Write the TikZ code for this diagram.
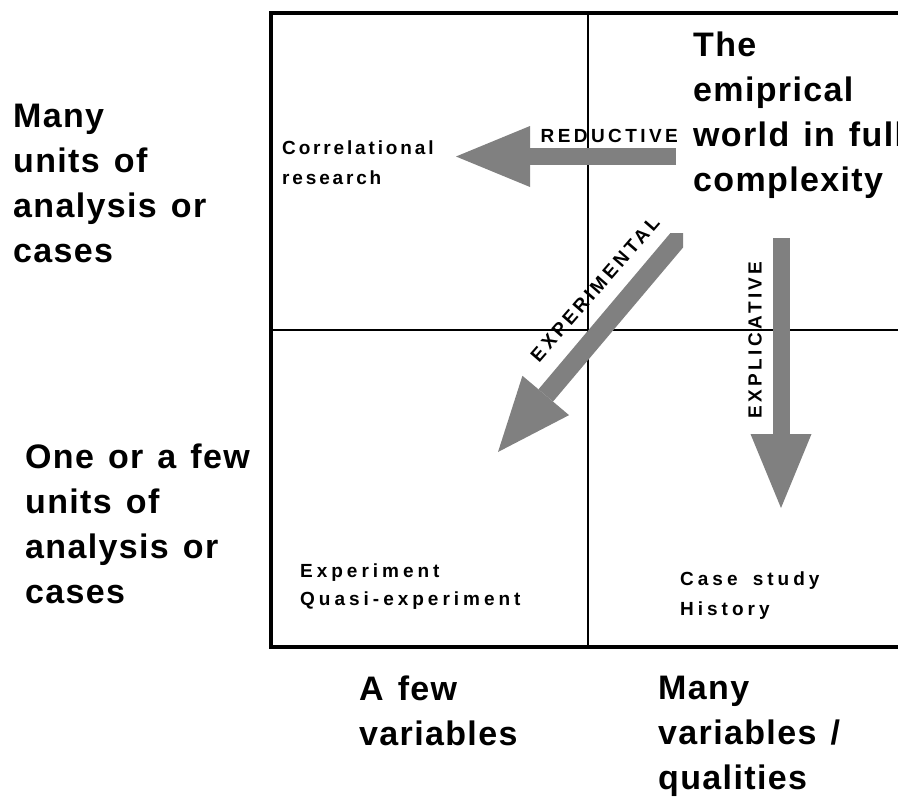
\documentclass[tikz,border=0pt]{standalone}
\usepackage{fontspec}
\setmainfont{Liberation Sans}
\newfontfamily\bigfont[LetterSpace=4.0, WordSpace=1.3]{Liberation Sans Bold}
\newfontfamily\smallfont[LetterSpace=18.0]{Liberation Sans Bold}
\newfontfamily\widefont[LetterSpace=21.0]{Liberation Sans Bold}
\newfontfamily\narrowfont[LetterSpace=15.0]{Liberation Sans Bold}
\usepackage{tikz}
\usetikzlibrary{arrows.meta}
\definecolor{shaft}{RGB}{128, 128, 128}
\tikzset{
  biglabel/.style={anchor=base west, align=left, inner sep=0, font=\bigfont\fontsize{34}{45}\selectfont},
  smalllabel/.style={anchor=base west, align=left, inner sep=0, font=\smallfont\fontsize{19}{30}\selectfont},
  blockarrow/.style={shaft, line width=17, -{Triangle[length=74pt, width=61pt, line width=0pt]}}
}

\begin{document}
\begin{tikzpicture}[x=1pt, y=-1pt]
  \useasboundingbox (0, 0) rectangle (898, 798);

  % quadrants
  \draw[line width=1.8] (588, 13) -- (588, 647);
  \draw[line width=1.8] (271, 330) -- (898, 330);
  \draw[line width=3.5] (898, 13) -- (271, 13) -- (271, 647) -- (898, 647);

  % axis labels (anchored at the baseline of the last line)
  \node[biglabel] (many) at (13, 262) {Many\\units of\\analysis or\\cases};
  \node[biglabel] (few) at (25, 603) {One or a few\\units of\\analysis or\\cases};
  \node[biglabel] (afew) at (359, 745) {A few\\variables};
  \node[biglabel] (manyvar) at (658, 789) {Many\\variables /\\qualities};
  \node[biglabel] (world) at (693, 191) {The\\emiprical\\world in full\\complexity};

  % quadrant labels
  \node[smalllabel, font=\narrowfont\fontsize{19}{30}\selectfont] (correl) at (282, 184) {Correlational\\research};
  \node[smalllabel, font=\widefont\fontsize{19}{28}\selectfont] (exper) at (300, 605) {Experiment\\Quasi-experiment};
  \node[smalllabel, font=\widefont\fontsize{19}{30}\selectfont] (case) at (680, 615) {Case\hspace{6pt} study\\History};

  % arrows
  \coordinate (red tail) at (676, 156.5);
  \coordinate (red tip) at (456, 156.5);
  \coordinate (exp tail) at (693, 221);
  \coordinate (exp tip) at (498, 452);
  \coordinate (expl tail) at (781, 238);
  \coordinate (expl tip) at (781, 508);

  \draw[blockarrow] (red tail) -- (red tip);
  \begin{scope}
    \clip (0, 233) rectangle (683, 798);
    \draw[blockarrow, line width=19] (exp tail) -- (exp tip);
  \end{scope}
  \draw[blockarrow] (expl tail) -- (expl tip);

  \node[smalllabel, anchor=base east] (reductive) at (678, 142) {REDUCTIVE};
  \node[smalllabel, anchor=center, rotate=49] (experimental) at (595, 289) {EXPERIMENTAL};
  \node[smalllabel, anchor=center, rotate=90] (explicative) at (755, 340) {EXPLICATIVE};
\end{tikzpicture}
\end{document}
